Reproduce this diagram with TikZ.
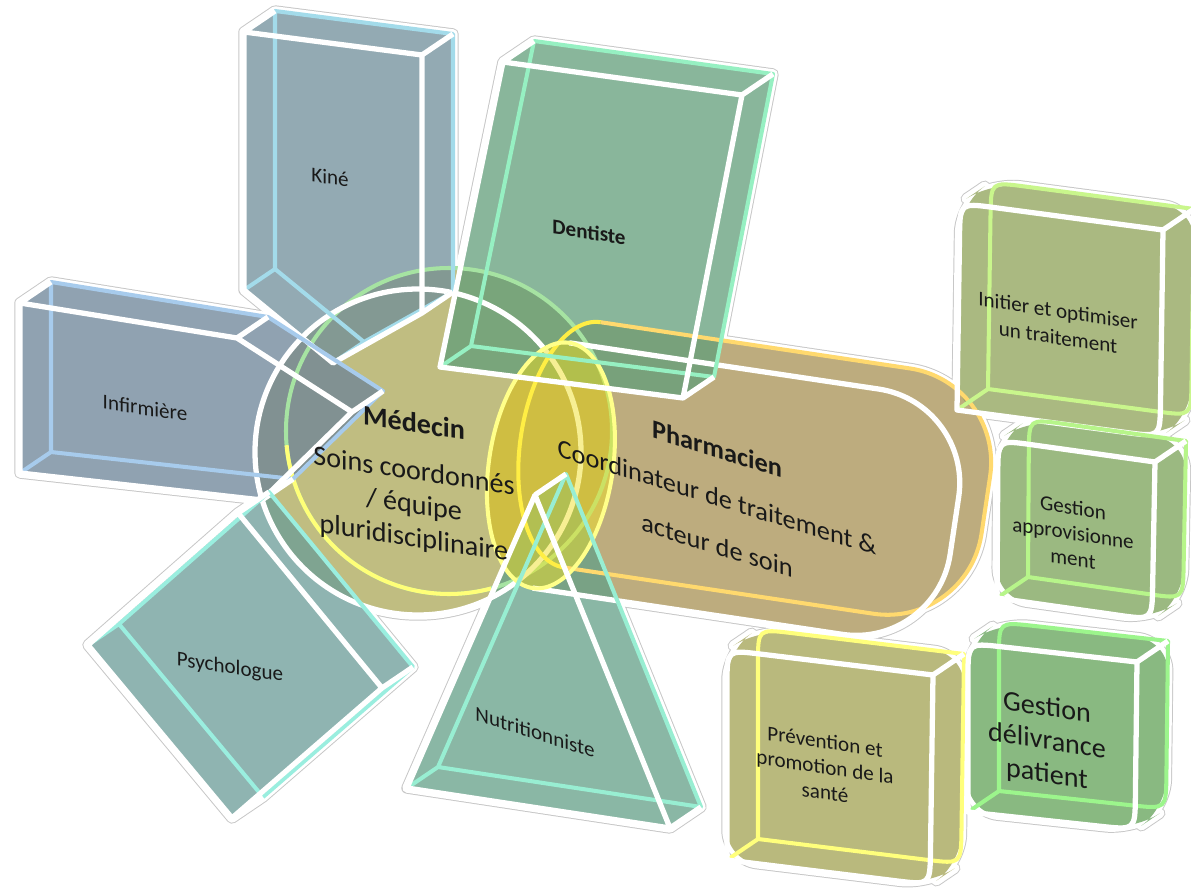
\documentclass[tikz,border=0pt]{standalone}
\usepackage{fontspec}
\setmainfont{Carlito}
\usetikzlibrary{calc}

\definecolor{medf}{RGB}{171,168,88}
\definecolor{pharf}{RGB}{168,145,83}
\definecolor{kinef}{RGB}{111,142,154}
\definecolor{inff}{RGB}{108,131,152}
\definecolor{dentf}{RGB}{98,158,122}
\definecolor{psyf}{RGB}{106,156,151}
\definecolor{nutf}{RGB}{99,159,136}
\definecolor{initf}{RGB}{142,162,88}
\definecolor{approf}{RGB}{122,162,88}
\definecolor{prevf}{RGB}{162,162,82}
\definecolor{delif}{RGB}{98,162,88}
\definecolor{kinec}{HTML}{A3DBEA}
\definecolor{infc}{HTML}{A7CBEC}
\definecolor{dentc}{HTML}{96F0C2}
\definecolor{psyc}{HTML}{9AEEDF}
\definecolor{nutc}{HTML}{98EED2}
\definecolor{initc}{HTML}{C9F68C}
\definecolor{approc}{HTML}{B7F58A}
\definecolor{prevc}{HTML}{FFFF7C}
\definecolor{delic}{HTML}{9CF58C}
\definecolor{medgreen}{HTML}{A6E3A2}
\definecolor{medyellow}{HTML}{FFFF78}
\definecolor{pharc}{HTML}{FFD96E}
\definecolor{capc}{HTML}{FFFF8A}
\definecolor{capin}{HTML}{FFEE44}
\definecolor{capfill}{RGB}{240,225,40}

\begin{document}
\begin{tikzpicture}[x=0.02cm, y=-0.02cm,
  glowline/.style={draw=black!22, line width=6.5pt, line join=round},
  glowfill/.style={fill=white, draw=white, line width=5.4pt, line join=round},
  wash/.style={fill=#1, fill opacity=0.75},
  backrim/.style={line width=2.3pt, line join=round},
  frontrim/.style={draw=white, line width=3pt, line join=round},
  lab/.style={font=\fontsize{12}{14.5}\selectfont, align=center, yslant=-0.15, inner sep=0pt, text=black!90},
  biglab/.style={lab, font=\fontsize{16}{19}\selectfont}]

\useasboundingbox (0,0) rectangle (1191,889);

% front corners
\coordinate (fk1) at (244,32);  \coordinate (fk2) at (422,55);  \coordinate (fk3) at (422,313);
\coordinate (fk4) at (333,363); \coordinate (fk5) at (244,290);
\coordinate (fi1) at (20,303);  \coordinate (fi2) at (237,338); \coordinate (fi3) at (352,412);
\coordinate (fi4) at (262,500); \coordinate (fi5) at (20,473);
\coordinate (fd1) at (503,62);  \coordinate (fd2) at (742,95);  \coordinate (fd3) at (683,398);
\coordinate (fd4) at (440,367);
\coordinate (fp1) at (238,513); \coordinate (fp2) at (382,688); \coordinate (fp3) at (232,818);
\coordinate (fp4) at (88,645);
\coordinate (fn1) at (535,495); \coordinate (fn2) at (670,828); \coordinate (fn3) at (407,788);
\coordinate (fo1) at (960,203); \coordinate (fo2) at (1163,230); \coordinate (fo3) at (1160,437);
\coordinate (fo4) at (957,410);
\coordinate (fa1) at (998,440); \coordinate (fa2) at (1155,462); \coordinate (fa3) at (1152,620);
\coordinate (fa4) at (997,598);
\coordinate (fv1) at (727,650); \coordinate (fv2) at (933,675); \coordinate (fv3) at (930,885);
\coordinate (fv4) at (727,860);
\coordinate (fg1) at (968,643); \coordinate (fg2) at (1137,662); \coordinate (fg3) at (1135,830);
\coordinate (fg4) at (968,812);

% back corners, same depth for every solid
\foreach \c in {k1,k2,k3,k4,k5,i1,i2,i3,i4,i5,d1,d2,d3,d4,p1,p2,p3,p4,n1,n2,n3,
                o1,o2,o3,o4,a1,a2,a3,a4,v1,v2,v3,v4,g1,g2,g3,g4}
  \coordinate (b\c) at ($(f\c)+(31,-21)$);

% outlines: glow first, then white, then the tinted bodies
\foreach \st in {glowline,glowfill,wash} {
  \path[\st=medf] (418,452) circle[radius=163] (449,431) circle[radius=163]
    (327,317) -- (358,296) -- (540,566) -- (509,587) -- cycle;
  \path[\st=pharf, rotate around={-8.5:(722,491)}]
    (549,367) -- (862,367) arc[start angle=-90,end angle=0,radius=95] -- (957,520)
    arc[start angle=0,end angle=90,radius=95] -- (549,615)
    arc[start angle=90,end angle=270,x radius=62,y radius=124] -- cycle
    (577,342) -- (890,342) arc[start angle=-90,end angle=0,radius=95] -- (985,495)
    arc[start angle=0,end angle=90,radius=95] -- (577,590)
    arc[start angle=90,end angle=270,x radius=62,y radius=124] -- cycle;
  \path[\st=kinef] (fk1) -- (bk1) -- (bk2) -- (bk3) -- (fk3) -- (fk4) -- (fk5) -- cycle;
  \path[\st=inff] (fi1) -- (bi1) -- (bi2) -- (bi3) -- (bi4) -- (fi4) -- (fi5) -- cycle;
  \path[\st=dentf] (fd1) -- (bd1) -- (bd2) -- (bd3) -- (fd3) -- (fd4) -- cycle;
  \path[\st=psyf] (fp1) -- (bp1) -- (bp2) -- (bp3) -- (fp3) -- (fp4) -- cycle;
  \path[\st=nutf] (fn1) -- (bn1) -- (bn2) -- (fn2) -- (fn3) -- cycle;
  \foreach \x/\c in {o/initf, a/approf, v/prevf, g/delif}
    \path[\st=\c, rounded corners=17pt] (f\x4) -- (f\x1) -- (b\x1) -- (b\x2) -- (b\x3) -- (f\x3) -- cycle;
}

% Medecin disc
\draw[medgreen, backrim] (449,431) circle[radius=163];
\draw[medyellow, backrim] (449,431) ++(75:163) arc[start angle=75, end angle=175, radius=163];
\draw[frontrim] (418,452) circle[radius=163];

% Pharmacien cylinder
\begin{scope}[rotate around={-8.5:(722,491)}]
\fill[capfill, fill opacity=0.5] (549,491) ellipse[x radius=62, y radius=124];
\draw[pharc, backrim] (577,342) -- (890,342) arc[start angle=-90,end angle=0,radius=95] -- (985,495)
  arc[start angle=0,end angle=90,radius=95] -- (577,590);
\draw[capin, backrim] (577,590) arc[start angle=90,end angle=270,x radius=62,y radius=124];
\draw[frontrim] (549,367) -- (862,367) arc[start angle=-90,end angle=0,radius=95] -- (957,520)
  arc[start angle=0,end angle=90,radius=95] -- (549,615);
\draw[capc, backrim] (549,491) ellipse[x radius=62, y radius=124];
\end{scope}

% satellites
\draw[kinec, backrim] (bk1) -- (bk2) -- (bk3) -- (bk4) -- (bk5) -- cycle (fk4) -- (bk4) (fk5) -- (bk5);
\draw[frontrim] (fk1) -- (fk2) -- (fk3) -- (fk4) -- (fk5) -- cycle (fk1) -- (bk1) (fk2) -- (bk2) (fk3) -- (bk3);

\draw[infc, backrim] (bi1) -- (bi2) -- (bi3) -- (bi4) -- (bi5) -- cycle (fi5) -- (bi5);
\draw[frontrim] (fi1) -- (fi2) -- (fi3) -- (fi4) -- (fi5) -- cycle (fi1) -- (bi1) (fi2) -- (bi2)
  (fi3) -- (bi3) (fi4) -- (bi4);

\draw[dentc, backrim] (bd1) -- (bd2) -- (bd3) -- (bd4) -- cycle (fd4) -- (bd4);
\draw[frontrim] (fd1) -- (fd2) -- (fd3) -- (fd4) -- cycle (fd1) -- (bd1) (fd2) -- (bd2) (fd3) -- (bd3);

\draw[psyc, backrim] (bp1) -- (bp2) -- (bp3) -- (bp4) -- cycle (fp4) -- (bp4);
\draw[frontrim] (fp1) -- (fp2) -- (fp3) -- (fp4) -- cycle (fp1) -- (bp1) (fp2) -- (bp2) (fp3) -- (bp3);

\draw[nutc, backrim] (bn1) -- (bn2) -- (bn3) -- cycle (fn3) -- (bn3);
\draw[frontrim] (fn1) -- (fn2) -- (fn3) -- cycle (fn1) -- (bn1) (fn2) -- (bn2);

% rounded boxes of the pharmacist
\foreach \x/\c in {o/initc, a/approc, v/prevc, g/delic} {
  \draw[\c, backrim] (b\x4) -- ($(b\x1)!19pt!(b\x4)$) .. controls (b\x1) .. ($(b\x1)!19pt!(b\x2)$)
    -- (b\x2) -- ($(b\x3)!19pt!(b\x2)$) .. controls (b\x3) .. ($(b\x3)!19pt!(b\x4)$) -- cycle
    (f\x4) -- (b\x4);
  \draw[frontrim] (f\x4) -- ($(f\x1)!19pt!(f\x4)$) .. controls (f\x1) .. ($(f\x1)!19pt!(f\x2)$)
    -- (f\x2) -- ($(f\x3)!19pt!(f\x2)$) .. controls (f\x3) .. ($(f\x3)!19pt!(f\x4)$) -- cycle
    (f\x2) -- (b\x2);
}

% labels
\node[biglab] (med) at (414,482) {\textbf{Médecin}\\[8pt]Soins coordonnés\\/ équipe\\pluridisciplinaire};
\node[lab, font=\fontsize{15}{27.5}\selectfont, yslant=-0.16] (phar) at (717,497)
  {\textbf{Pharmacien}\\Coordinateur de traitement \&\\acteur de soin};
\node[lab] (kine) at (330,177) {Kiné};
\node[lab] (inf) at (145,408) {Infirmière};
\node[lab, font=\fontsize{12}{14.5}\selectfont\bfseries] (dent) at (589,232) {Dentiste};
\node[lab] (psy) at (230,668) {Psychologue};
\node[lab, yslant=-0.17] (nut) at (535,732) {Nutritionniste};
\node[lab, font=\fontsize{12}{15.4}\selectfont] (init) at (1058,324) {Initier et optimiser\\un traitement};
\node[lab] (appro) at (1073,533) {Gestion\\approvisionne\\ment};
\node[lab] (prev) at (825,767) {Prévention et\\promotion de la\\santé};
\node[biglab] (deli) at (1047,742) {Gestion\\délivrance\\patient};

\end{tikzpicture}
\end{document}
